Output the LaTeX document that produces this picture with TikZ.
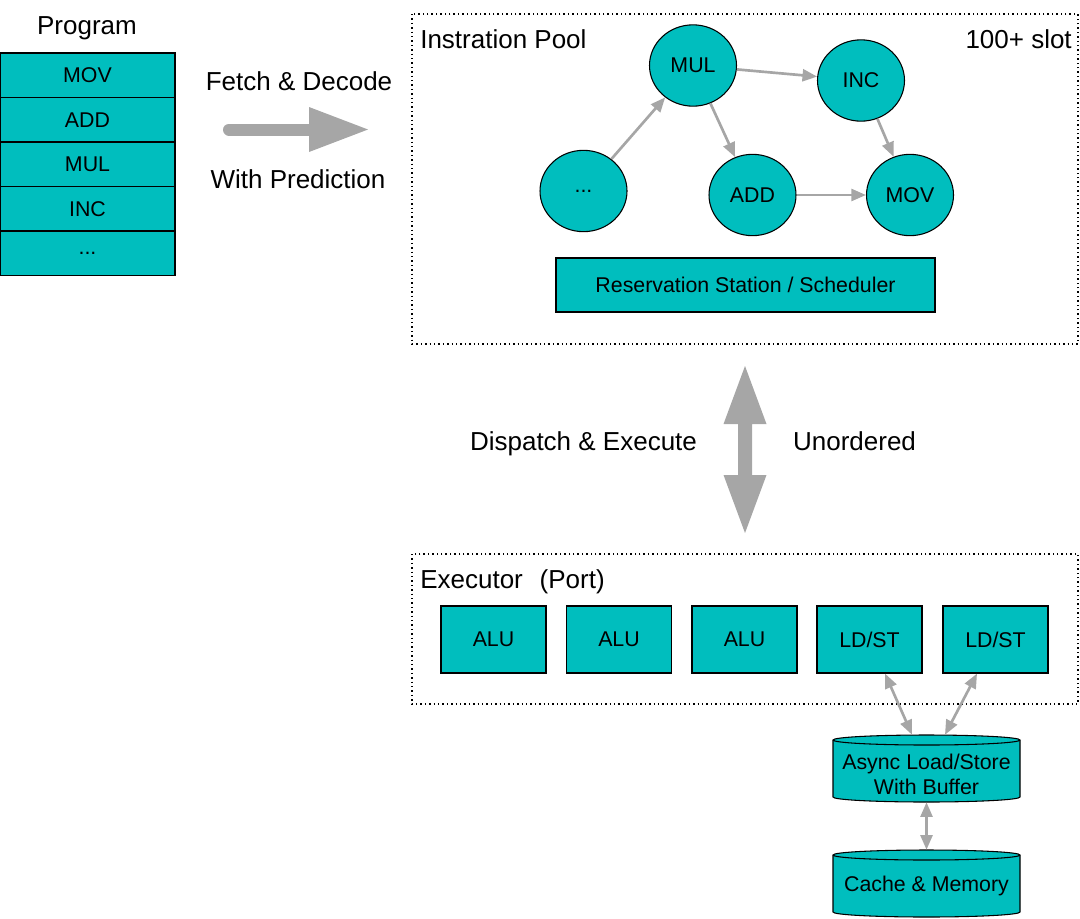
\documentclass[tikz,border=0pt]{standalone}
\usepackage{fontspec}
\setmainfont{Liberation Sans}
\usetikzlibrary{shapes.geometric,arrows.meta,calc}
\definecolor{tealc}{RGB}{0,190,190}
\definecolor{arrg}{RGB}{166,166,166}
\begin{document}
\begin{tikzpicture}[x=0.75pt,y=-0.75pt,
 big/.style={font=\fontsize{19.5pt}{23pt}\selectfont, inner sep=0pt},
 lbl/.style={font=\fontsize{16pt}{18.75pt}\selectfont},
 box/.style={draw=black, line width=0.8pt, fill=tealc, lbl, inner sep=0pt},
 prow/.style={box, minimum width=131.25pt, minimum height=33.375pt},
 insn/.style={box, ellipse, minimum width=65.25pt, minimum height=61pt},
 port/.style={box, minimum width=78.75pt, minimum height=50.25pt},
 cylnode/.style={inner sep=0pt, minimum width=140.25pt, minimum height=50.25pt},
 cylshape/.style={draw=black, line width=0.8pt, fill=tealc},
 region/.style={draw=black, line width=0.8pt, dash pattern=on 1.1pt off 2.2pt},
 flow/.style={draw=arrg, line width=2pt, -{Triangle[length=11pt,width=9pt]}},
 flow2/.style={draw=arrg, line width=2pt, {Triangle[length=11pt,width=9pt]}-{Triangle[length=11pt,width=9pt]}},
 bigarrow/.style={fill=arrg},
]
\useasboundingbox (0,0) rectangle (1080,918);

% Program stack
\node[big, anchor=base] (progt) at (87,34) {Program};
\node[prow] (p1) at (87.5,75.25) {MOV};
\node[prow] (p2) at (87.5,119.75) {ADD};
\node[prow] (p3) at (87.5,164.25) {MUL};
\node[prow] (p4) at (87.5,208.75) {INC};
\node[prow] (p5) at (87.5,253.25) {...};

% Fetch arrow
\node[big, anchor=base] (fetch) at (299,90) {Fetch \& Decode};
\node[big, anchor=base] (pred) at (298,188) {With Prediction};
\draw[arrg, line width=9pt, line cap=round] (229,129.5) -- (312,129.5);
\fill[bigarrow] (309,107) -- (368,129.5) -- (309,152) -- cycle;

% Instruction pool
\draw[region] (412,14) rectangle (1078,344);
\node[big, anchor=base west] (poolt) at (420,48) {Instration Pool};
\node[big, anchor=base east] (slot) at (1072,48) {100+ slot};
\node[insn] (mul) at (693,65.5) {MUL};
\node[insn] (inc) at (861,80.5) {INC};
\node[insn] (dots) at (583.5,191) {...};
\node[insn] (add) at (752.5,195) {ADD};
\node[insn] (mov) at (910,195) {MOV};
\draw[flow] (dots) -- (mul);
\draw[flow] (mul) -- (inc);
\draw[flow] (mul) -- (add);
\draw[flow] (inc) -- (mov);
\draw[flow] (add) -- (mov);
\node[box, minimum width=284.25pt, minimum height=40.5pt] (rs) at (745.5,285) {Reservation Station / Scheduler};

% Dispatch arrow
\fill[bigarrow] (745,366) -- (766.5,424) -- (752,424) -- (752,475) -- (766.5,475) -- (745,533)
  -- (723.5,475) -- (738,475) -- (738,424) -- (723.5,424) -- cycle;
\node[big, anchor=base] (disp) at (583.5,450) {Dispatch \& Execute};
\node[big, anchor=base] (unord) at (854.5,450) {Unordered};

% Executor
\draw[region] (412,554) rectangle (1078,704);
\node[big, anchor=base west] (exect) at (420,588) {Executor\hspace{0.65em}(Port)};
\node[port] (alu1) at (493.5,639.5) {ALU};
\node[port] (alu2) at (619,639.5) {ALU};
\node[port] (alu3) at (744.5,639.5) {ALU};
\node[port] (ld1) at (869.5,639.5) {LD/ST};
\node[port] (ld2) at (995.5,639.5) {LD/ST};

% Cylinders
\node[cylnode] (buf) at (926.5,768.5) {};
\node[cylnode] (mem) at (926.5,883.5) {};
\path[cylshape] (833,740) -- (833,797) arc[start angle=180,end angle=0,x radius=93.5,y radius=5]
  -- (1020,740) arc[start angle=0,end angle=-180,x radius=93.5,y radius=5] -- cycle;
\draw[line width=0.8pt] (833,740) arc[start angle=180,end angle=0,x radius=93.5,y radius=5];
\path[cylshape] (833,855) -- (833,912) arc[start angle=180,end angle=0,x radius=93.5,y radius=5]
  -- (1020,855) arc[start angle=0,end angle=-180,x radius=93.5,y radius=5] -- cycle;
\draw[line width=0.8pt] (833,855) arc[start angle=180,end angle=0,x radius=93.5,y radius=5];
\node[lbl, align=center, inner sep=0pt] (buft) at (926.5,774) {Async Load/Store\\With Buffer};
\node[lbl, inner sep=0pt] (memt) at (926.5,886) {Cache \& Memory};

\draw[flow2] ($(ld1.south)+(15.5,0)$) -- ($(buf.north)+(-14.5,0)$);
\draw[flow2] ($(ld2.south)+(-18.5,0)$) -- ($(buf.north)+(18.5,0)$);
\draw[flow2] (buf.south) -- (mem.north);
\end{tikzpicture}
\end{document}
